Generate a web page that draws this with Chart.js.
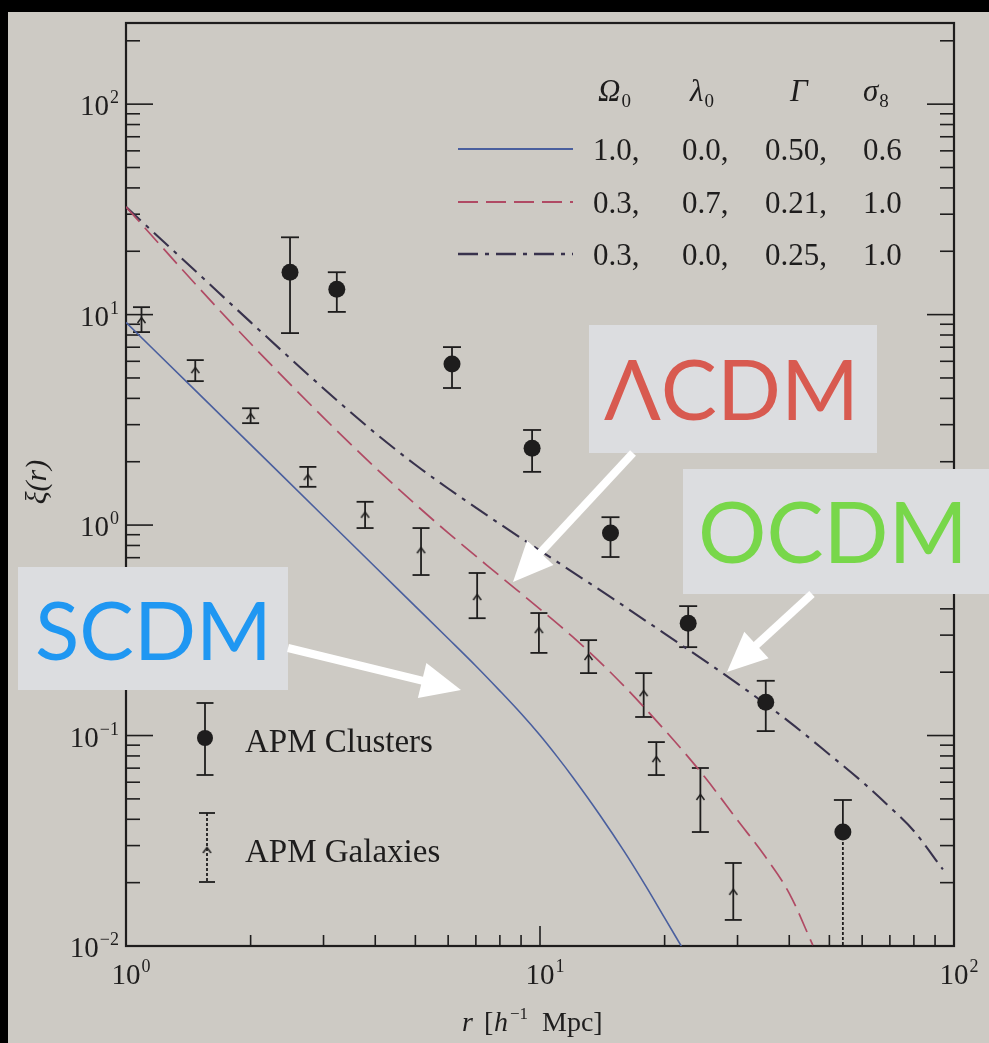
<!DOCTYPE html>
<html>
<head>
<meta charset="utf-8">
<title>Two-point correlation function ξ(r)</title>
<script src="https://cdn.jsdelivr.net/npm/chart.js@4.4.1/dist/chart.umd.min.js"></script>
<style>
  html, body { margin: 0; padding: 0; background: #000; }
  canvas { display: block; }
</style>
</head>
<body>
<canvas id="c" width="989" height="1043" style="width:989px;height:1043px"></canvas>
<script>
// ---- data -------------------------------------------------------------
// APM galaxies: separation r [h^-1 Mpc], xi(r), upper / lower error limits
const galaxyR  = [1.09, 1.47, 2.00, 2.75, 3.78, 5.16, 7.05, 9.94, 13.1, 17.8, 19.1, 24.4, 29.3];
const galaxyXi = [9.42, 5.45, 3.30, 1.69, 1.12, 0.760, 0.455, 0.317, 0.236, 0.159, 0.0773, 0.0511, 0.0181];
const galaxyHi = [10.85, 6.08, 3.59, 1.89, 1.29, 0.968, 0.592, 0.382, 0.284, 0.198, 0.0931, 0.0701, 0.0248];
const galaxyLo = [8.26, 4.83, 3.05, 1.52, 0.968, 0.579, 0.361, 0.247, 0.198, 0.1225, 0.0649, 0.0348, 0.0133];

// APM clusters (a lower limit of 0 means the bar runs off the bottom of the plot)
const clusterR  = [2.49, 3.23, 6.13, 9.57, 14.8, 22.8, 35.1, 53.9];
const clusterXi = [15.9, 13.2, 5.82, 2.32, 0.916, 0.342, 0.144, 0.0348];
const clusterHi = [23.3, 15.9, 7.01, 2.83, 1.09, 0.412, 0.182, 0.0494];
const clusterLo = [8.17, 10.3, 4.48, 1.79, 0.705, 0.263, 0.105, 0];

// Model predictions
const scdmR  = [1, 1.5, 2, 3, 4, 5, 6, 7, 8, 9, 10, 11, 12, 14, 16, 18, 20, 22];
const scdmXi = [9.18, 4.20, 2.41, 1.102, 0.632, 0.411, 0.289, 0.214, 0.163, 0.1272, 0.1003, 0.0794, 0.0634, 0.0415, 0.0280, 0.0193, 0.0136, 0.0099];

const lcdmR  = [1, 1.5, 2, 3, 4, 5, 6, 8, 10, 12, 15, 20, 25, 30, 35, 40, 45.6];
const lcdmXi = [32.5, 13.4, 7.29, 3.24, 1.877, 1.256, 0.918, 0.573, 0.399, 0.294, 0.1945, 0.1063, 0.0635, 0.0396, 0.0266, 0.0178, 0.0101];

const ocdmR  = [1, 1.5, 2, 3, 4, 5, 6, 8, 10, 15, 20, 30, 40, 50, 60, 70, 80, 94];
const ocdmXi = [32.5, 15.56, 9.21, 4.46, 2.735, 1.935, 1.492, 1.012, 0.757, 0.447, 0.305, 0.1764, 0.1161, 0.0813, 0.0603, 0.0457, 0.0352, 0.0231];

// Model parameter table
const omega0  = ['1.0,', '0.3,', '0.3,'];
const lambda0 = ['0.0,', '0.7,', '0.0,'];
const gammaP  = ['0.50,', '0.21,', '0.25,'];
const sigma8  = ['0.6', '1.0', '1.0'];

// Axes: decade ticks and their exponent labels
const xMajorTicks = [1, 10, 100];
const xTickLabels = ['0', '1', '2'];
const yMajorTicks = [0.01, 0.1, 1, 10, 100];
const yTickLabels = ['\u22122', '\u22121', '0', '1', '2'];
const minorMantissas = [2, 3, 4, 5, 6, 7, 8, 9];

// ---- styles -----------------------------------------------------------
const INK = '#1e1d1d';
const PAPER = '#cdcac4';
const SERIF = '"Liberation Serif", "DejaVu Serif", serif';
const SANS = 'Lato, "Noto Sans", "Open Sans", sans-serif';
const SCDM_COLOR = '#4a5f9e';
const LCDM_COLOR = '#b04a64';
const OCDM_COLOR = '#38324c';
const LCDM_DASH = [20, 8];
const OCDM_DASH = [20, 7, 4, 7];

const callouts = [
  { text: '\u039BCDM', color: '#d85a50', box: [589, 325, 877, 453], x: 604, baseline: 420, width: 255, arrow: [633, 453, 513, 582] },
  { text: 'OCDM', color: '#78d74a', box: [683, 469, 989, 594], x: 698, baseline: 563, width: 270, arrow: [812, 594, 727, 672] },
  { text: 'SCDM', color: '#1f97f2', box: [18, 567, 288, 690], x: 35, baseline: 660, width: 237, arrow: [288, 648, 461, 690] }
];

// ---- helpers ----------------------------------------------------------
const pts = (xs, ys) => xs.map((v, i) => ({ x: v, y: ys[i] }));

function logTicks(majors, min, max) {
  const out = [];
  majors.forEach(m => {
    out.push({ value: m, major: true });
    minorMantissas.forEach(k => out.push({ value: m * k, major: false }));
  });
  return out.filter(t => t.value >= min && t.value <= max * 1.0001).sort((a, b) => a.value - b.value);
}

function seg(ctx, x1, y1, x2, y2) {
  ctx.beginPath(); ctx.moveTo(x1, y1); ctx.lineTo(x2, y2); ctx.stroke();
}

// small upward caret used as the galaxy marker
const caret = document.createElement('canvas');
caret.width = 11; caret.height = 10;
(function () {
  const g = caret.getContext('2d');
  g.strokeStyle = INK; g.lineWidth = 1.5;
  g.beginPath(); g.moveTo(1.5, 8); g.lineTo(5.5, 2.5); g.lineTo(9.5, 8); g.stroke();
})();

function errorBar(ctx, px, pHi, pLo, cap, dashedLow, pMid) {
  ctx.setLineDash([]);
  if (dashedLow) {
    seg(ctx, px, pHi, px, pMid);
    ctx.setLineDash([3, 2]);
    seg(ctx, px, pMid, px, pLo);
    ctx.setLineDash([]);
  } else {
    seg(ctx, px, pHi, px, pLo);
    seg(ctx, px - cap / 2, pLo, px + cap / 2, pLo);
  }
  seg(ctx, px - cap / 2, pHi, px + cap / 2, pHi);
}

function arrow(ctx, x1, y1, x2, y2) {
  const ang = Math.atan2(y2 - y1, x2 - x1);
  const hl = 40, hw = 18;
  const bx = x2 - hl * Math.cos(ang), by = y2 - hl * Math.sin(ang);
  ctx.lineWidth = 8; ctx.lineCap = 'butt';
  seg(ctx, x1, y1, bx + 2 * Math.cos(ang), by + 2 * Math.sin(ang));
  ctx.beginPath();
  ctx.moveTo(x2, y2);
  ctx.lineTo(bx + hw * Math.sin(ang), by - hw * Math.cos(ang));
  ctx.lineTo(bx - hw * Math.sin(ang), by + hw * Math.cos(ang));
  ctx.closePath(); ctx.fill();
}

// ---- plugins ----------------------------------------------------------
const paperPlugin = {
  id: 'paper',
  beforeDraw(chart) {
    const { ctx, width, height } = chart;
    ctx.save();
    ctx.fillStyle = '#000'; ctx.fillRect(0, 0, width, height);
    ctx.fillStyle = PAPER; ctx.fillRect(8, 12, width - 8, height - 12);
    ctx.restore();
  }
};

const framePlugin = {
  id: 'frame',
  beforeDatasetsDraw(chart) {
    const { ctx, chartArea: a, scales: { x, y } } = chart;
    ctx.save();
    ctx.strokeStyle = INK; ctx.fillStyle = INK;
    ctx.lineWidth = 2.2;
    ctx.strokeRect(a.left, a.top, a.right - a.left, a.bottom - a.top);

    // inward tick marks on left, right and bottom
    ctx.lineWidth = 1.6;
    y.ticks.forEach(t => {
      const py = y.getPixelForValue(t.value);
      if (py <= a.top + 1 || py >= a.bottom - 1) return;
      const len = t.major ? 27 : 14;
      seg(ctx, a.left, py, a.left + len, py);
      seg(ctx, a.right, py, a.right - len, py);
    });
    x.ticks.forEach(t => {
      const px = x.getPixelForValue(t.value);
      if (px <= a.left + 1 || px >= a.right - 1) return;
      const len = t.major ? 20 : 11;
      seg(ctx, px, a.bottom, px, a.bottom - len);
    });

    // decade labels 10^n
    ctx.textBaseline = 'alphabetic';
    yMajorTicks.forEach((v, i) => {
      const py = y.getPixelForValue(v);
      ctx.font = '18px ' + SERIF;
      const wE = ctx.measureText(yTickLabels[i]).width;
      ctx.textAlign = 'left';
      ctx.fillText(yTickLabels[i], 119 - wE, py - 1);
      ctx.font = '29px ' + SERIF;
      ctx.textAlign = 'right';
      ctx.fillText('10', 119 - wE - 1, py + 11);
    });
    xMajorTicks.forEach((v, i) => {
      const px = x.getPixelForValue(v);
      ctx.font = '29px ' + SERIF;
      const wB = ctx.measureText('10').width;
      ctx.textAlign = 'center';
      ctx.fillText('10', px, a.bottom + 38);
      ctx.font = '18px ' + SERIF;
      ctx.textAlign = 'left';
      ctx.fillText(xTickLabels[i], px + wB / 2 + 1, a.bottom + 26);
    });

    // axis titles
    ctx.save();
    ctx.translate(46, 482);
    ctx.rotate(-Math.PI / 2);
    ctx.textAlign = 'center';
    ctx.font = 'italic 30px ' + SERIF;
    ctx.fillText('\u03BE(r)', 0, 0);
    ctx.restore();

    ctx.textAlign = 'left';
    ctx.font = 'italic 28px ' + SERIF;
    ctx.fillText('r', 462, 1031);
    ctx.font = '28px ' + SERIF;
    ctx.fillText('[', 484, 1031);
    ctx.font = 'italic 28px ' + SERIF;
    ctx.fillText('h', 494, 1031);
    ctx.font = '17px ' + SERIF;
    ctx.fillText('\u22121', 510, 1019);
    ctx.font = '28px ' + SERIF;
    ctx.fillText('Mpc]', 542, 1031);
    ctx.restore();
  }
};

const errorBarPlugin = {
  id: 'errorBars',
  beforeDatasetsDraw(chart) {
    const { ctx, chartArea: a, scales: { x, y } } = chart;
    ctx.save();
    ctx.beginPath(); ctx.rect(a.left, a.top, a.right - a.left, a.bottom - a.top); ctx.clip();
    ctx.strokeStyle = INK; ctx.lineWidth = 1.8;
    galaxyR.forEach((r, i) => {
      errorBar(ctx, x.getPixelForValue(r), y.getPixelForValue(galaxyHi[i]), y.getPixelForValue(galaxyLo[i]), 17, false);
    });
    clusterR.forEach((r, i) => {
      const lowOff = clusterLo[i] <= 0;
      const pLo = lowOff ? a.bottom : y.getPixelForValue(clusterLo[i]);
      errorBar(ctx, x.getPixelForValue(r), y.getPixelForValue(clusterHi[i]), pLo, 18, lowOff, y.getPixelForValue(clusterXi[i]));
    });
    ctx.restore();
  }
};

const keyPlugin = {
  id: 'keys',
  afterDatasetsDraw(chart) {
    const { ctx } = chart;
    const ds = chart.data.datasets;
    ctx.save();
    ctx.fillStyle = INK; ctx.strokeStyle = INK;
    ctx.textBaseline = 'alphabetic'; ctx.textAlign = 'left';

    // parameter header
    const head = [['\u03A9', '0', 598], ['\u03BB', '0', 690], ['\u0393', '', 790], ['\u03C3', '8', 863]];
    head.forEach(([sym, sub, hx]) => {
      ctx.font = 'italic 31px ' + SERIF;
      ctx.fillText(sym, hx, 101);
      const w = ctx.measureText(sym).width;
      if (sub) { ctx.font = '19px ' + SERIF; ctx.fillText(sub, hx + w + 1, 107); }
    });

    // model rows: line sample + parameter values
    const models = [ds[2], ds[3], ds[4]];
    const rowBase = [160, 213, 265];
    const colX = [593, 682, 765, 863];
    models.forEach((m, i) => {
      const ly = rowBase[i] - 11;
      ctx.save();
      ctx.strokeStyle = m.borderColor; ctx.lineWidth = m.borderWidth + 0.4;
      ctx.setLineDash(m.borderDash || []);
      seg(ctx, 458, ly, 573, ly);
      ctx.restore();
      ctx.font = '31px ' + SERIF;
      [omega0[i], lambda0[i], gammaP[i], sigma8[i]].forEach((t, k) => ctx.fillText(t, colX[k], rowBase[i]));
    });

    // data key
    ctx.lineWidth = 1.8;
    errorBar(ctx, 205, 703, 775, 17, false);
    ctx.beginPath(); ctx.arc(205, 738, 8, 0, Math.PI * 2); ctx.fill();
    ctx.font = '33px ' + SERIF;
    ctx.fillText(ds[0].label, 245, 752);

    ctx.setLineDash([3, 2]);
    seg(ctx, 207, 813, 207, 882);
    ctx.setLineDash([]);
    seg(ctx, 199, 813, 215, 813);
    seg(ctx, 199, 882, 215, 882);
    ctx.drawImage(caret, 207 - 5.5, 850 - 5);
    ctx.fillText(ds[1].label, 245, 862);
    ctx.restore();
  }
};

const calloutPlugin = {
  id: 'callouts',
  afterDraw(chart) {
    const { ctx } = chart;
    ctx.save();
    callouts.forEach(c => {
      const [x1, y1, x2, y2] = c.box;
      ctx.fillStyle = '#dcdde0';
      ctx.fillRect(x1, y1, x2 - x1, y2 - y1);
      ctx.font = '88px ' + SANS;
      const size = 88 * c.width / ctx.measureText(c.text).width;
      ctx.font = size.toFixed(1) + 'px ' + SANS;
      ctx.fillStyle = c.color;
      ctx.textAlign = 'left'; ctx.textBaseline = 'alphabetic';
      ctx.fillText(c.text, c.x, c.baseline);
    });
    ctx.fillStyle = '#ffffff'; ctx.strokeStyle = '#ffffff';
    callouts.forEach(c => arrow(ctx, ...c.arrow));
    ctx.restore();
  }
};

// ---- chart ------------------------------------------------------------
new Chart(document.getElementById('c'), {
  type: 'scatter',
  data: {
    datasets: [
      { label: 'APM Clusters', data: pts(clusterR, clusterXi), pointStyle: 'circle', pointRadius: 8.5,
        backgroundColor: INK, borderColor: INK, borderWidth: 0 },
      { label: 'APM Galaxies', data: pts(galaxyR, galaxyXi), pointStyle: caret, pointRadius: 5 },
      { label: 'SCDM', data: pts(scdmR, scdmXi), showLine: true, pointRadius: 0, borderColor: SCDM_COLOR,
        borderWidth: 1.6, cubicInterpolationMode: 'monotone' },
      { label: '\u039BCDM', data: pts(lcdmR, lcdmXi), showLine: true, pointRadius: 0, borderColor: LCDM_COLOR,
        borderWidth: 1.7, borderDash: LCDM_DASH, cubicInterpolationMode: 'monotone' },
      { label: 'OCDM', data: pts(ocdmR, ocdmXi), showLine: true, pointRadius: 0, borderColor: OCDM_COLOR,
        borderWidth: 2.1, borderDash: OCDM_DASH, cubicInterpolationMode: 'monotone' }
    ]
  },
  options: {
    responsive: false,
    animation: false,
    devicePixelRatio: 1,
    layout: { padding: { left: 126, right: 35, top: 23, bottom: 97 } },
    scales: {
      x: { type: 'logarithmic', min: 1, max: 100, display: false,
           afterBuildTicks: s => { s.ticks = logTicks(xMajorTicks, 1, 100); } },
      y: { type: 'logarithmic', min: 0.01, max: 243, display: false,
           afterBuildTicks: s => { s.ticks = logTicks(yMajorTicks, 0.01, 243); } }
    },
    plugins: { legend: { display: false }, tooltip: { enabled: false } }
  },
  plugins: [paperPlugin, framePlugin, errorBarPlugin, keyPlugin, calloutPlugin]
});
</script>
</body>
</html>
